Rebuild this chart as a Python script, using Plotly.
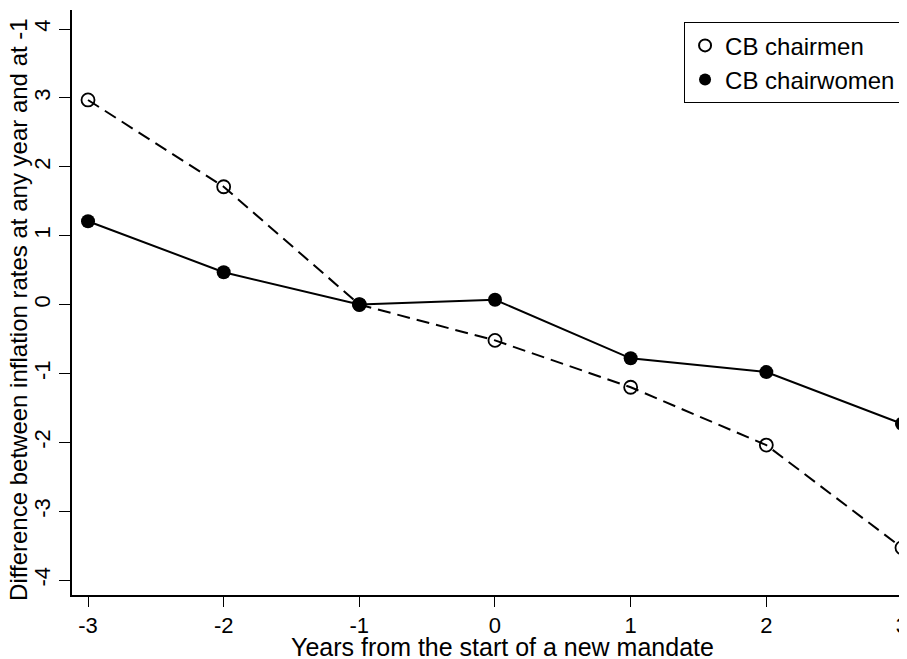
import plotly.graph_objects as go

years = [-3, -2, -1, 0, 1, 2, 3]
chairmen = [2.97, 1.71, 0.0, -0.52, -1.20, -2.04, -3.53]
chairwomen = [1.21, 0.47, 0.0, 0.07, -0.78, -0.98, -1.73]
y_ticks = [-4, -3, -2, -1, 0, 1, 2, 3, 4]
x_ticks = [-3, -2, -1, 0, 1, 2, 3]

FONT = "Liberation Sans, Arial, sans-serif"

fig = go.Figure()
# lines
fig.add_trace(go.Scatter(
    x=years, y=chairmen, mode="lines", showlegend=False,
    line=dict(color="black", width=2, dash="13px,7px"), cliponaxis=False,
))
fig.add_trace(go.Scatter(
    x=years, y=chairwomen, mode="lines", showlegend=False,
    line=dict(color="black", width=2), cliponaxis=False,
))
# markers (with legend)
fig.add_trace(go.Scatter(
    x=years, y=chairmen, name="CB chairmen", mode="markers",
    marker=dict(symbol="circle-open", size=13, color="black", line=dict(width=1.8)),
    cliponaxis=False,
))
fig.add_trace(go.Scatter(
    x=years, y=chairwomen, name="CB chairwomen", mode="markers",
    marker=dict(symbol="circle", size=14, color="black"),
    cliponaxis=False,
))

fig.update_layout(
    width=899, height=651,
    margin=dict(l=64, r=0, t=2, b=64),
    paper_bgcolor="white", plot_bgcolor="white",
    font=dict(family=FONT, size=22, color="black"),
    showlegend=True,
    legend=dict(
        x=0.733, y=0.979, xanchor="left", yanchor="top",
        bordercolor="black", borderwidth=1, bgcolor="white",
        font=dict(size=24, family=FONT), itemwidth=30, tracegroupgap=0,
        itemsizing="constant",
    ),
    xaxis=dict(
        range=[-3.118, 3.037], tickvals=x_ticks, ticktext=[str(v) for v in x_ticks],
        showgrid=False, zeroline=False, showline=True, linecolor="black", linewidth=1.5,
        ticks="outside", ticklen=10, tickwidth=1.2, tickcolor="black",
        tickfont=dict(size=22), automargin=False, ticklabeloverflow="allow",
    ),
    yaxis=dict(
        range=[-4.216, 4.276], tickvals=y_ticks, ticktext=[str(v) for v in y_ticks],
        showgrid=False, zeroline=False, showline=True, linecolor="black", linewidth=1.5,
        ticks="outside", ticklen=11, tickwidth=1.2, tickcolor="black", tickangle=-90,
        tickfont=dict(size=22), automargin=False, ticklabeloverflow="allow",
    ),
    annotations=[
        dict(text="Years from the start of a new mandate", x=0.516, y=-0.089,
             xref="paper", yref="paper", xanchor="center", yanchor="middle",
             showarrow=False, font=dict(size=25)),
        dict(text="Difference between inflation rates at any year and at -1", x=-0.0635, y=0.489,
             xref="paper", yref="paper", xanchor="center", yanchor="middle", textangle=-90,
             showarrow=False, font=dict(size=24)),
    ],
)

fig.write_html("out.html")
